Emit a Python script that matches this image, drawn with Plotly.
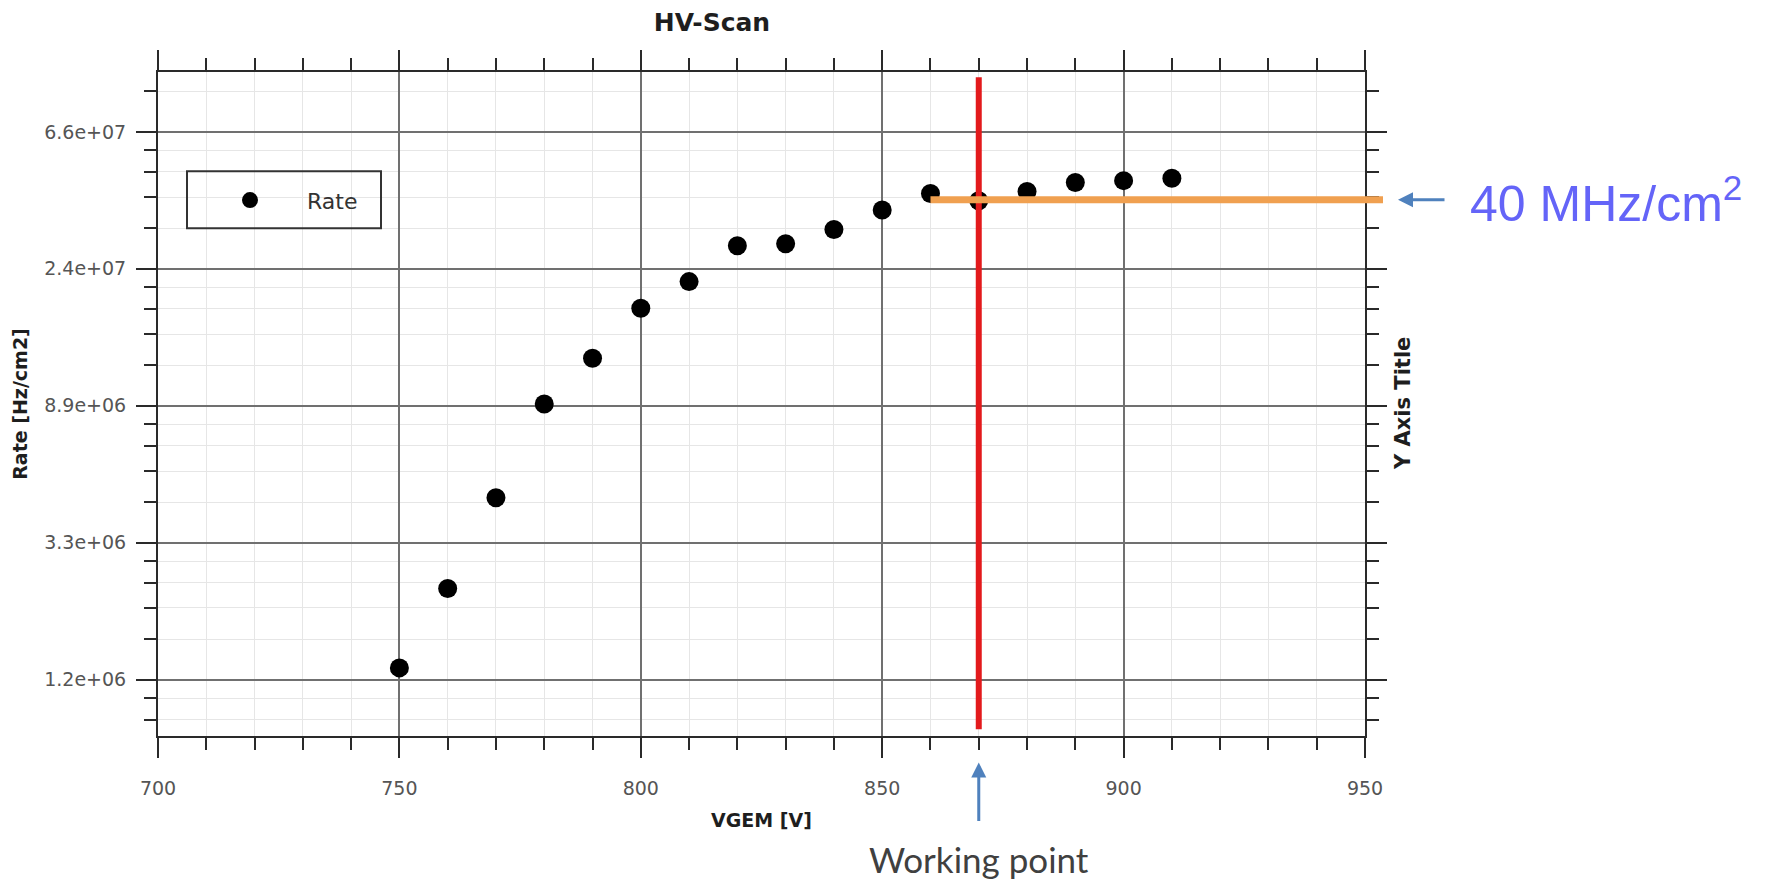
import math
import plotly.graph_objects as go

# HV scan: detector rate vs. GEM voltage
hv_volts = [750, 760, 770, 780, 790, 800, 810, 820, 830, 840, 850, 860, 870, 880, 890, 900, 910]
rate_hz_cm2 = [1.31e6, 2.34e6, 4.54e6, 9.0e6, 1.257e7, 1.81e7, 2.20e7, 2.86e7, 2.90e7,
               3.22e7, 3.71e7, 4.19e7, 3.97e7, 4.25e7, 4.54e7, 4.60e7, 4.68e7]

x_tick_vals = [700, 750, 800, 850, 900, 950]
y_tick_exponents = [14, 15, 16, 17, 18]          # ticks at e^n
y_tick_labels = ["1.2e+06", "3.3e+06", "8.9e+06", "2.4e+07", "6.6e+07"]

working_point_v = 870
target_rate = 40e6          # 40 MHz/cm2
target_line_start_v = 860

# natural-log decades, with linear subdivisions for the minor ticks
y_tick_vals = [math.exp(n) for n in y_tick_exponents]
y_minor_vals = []
for n in range(13, 19):
    lo, hi = math.exp(n), math.exp(n + 1)
    y_minor_vals += [lo + k * (hi - lo) / 5 for k in range(1, 5)]

W, H = 1774, 881
L, R, T, B = 158, 1365, 71.5, 736.5
pw, ph = R - L, B - T

def px_x(p):   # pixel -> plot-area fraction
    return (p - L) / pw

def px_y(p):
    return (B - p) / ph

tick_font = dict(family="DejaVu Sans", size=19, color="#555555")
title_font = dict(family="DejaVu Sans", size=19, color="#1e1e1e", weight="bold")
axis_col = "#2a2a2a"
arrow_col = "#4f81bd"

fig = go.Figure()
fig.add_trace(go.Scatter(
    x=hv_volts, y=rate_hz_cm2, mode="markers", name="Rate",
    marker=dict(symbol="circle", size=19, color="black"),
    cliponaxis=False,
))

common = dict(
    showline=True, linecolor=axis_col, linewidth=2,
    mirror="allticks", ticks="outside", ticklen=20, tickwidth=2, tickcolor=axis_col,
    showgrid=True, gridcolor="#707070", gridwidth=1.5,
    tickfont=tick_font, zeroline=False,
)

fig.update_xaxes(
    range=[700, 950], tickmode="array", tickvals=x_tick_vals,
    minor=dict(dtick=10, tick0=700, ticks="outside", ticklen=12, tickwidth=2,
               tickcolor=axis_col, showgrid=True, gridcolor="#e6e6e6", gridwidth=1),
    title=dict(text="VGEM [V]", font=title_font, standoff=16),
    ticklabelstandoff=14,
    **common,
)
fig.update_yaxes(
    type="log", range=[5.9012, 8.0073],
    tickmode="array", tickvals=y_tick_vals, ticktext=y_tick_labels,
    minor=dict(tickmode="array", tickvals=y_minor_vals, ticks="outside", ticklen=12,
               tickwidth=2, tickcolor=axis_col, showgrid=True, gridcolor="#e6e6e6", gridwidth=1),
    title=dict(text="Rate [Hz/cm2]", font=title_font, standoff=12),
    ticklabelstandoff=6,
    **common,
)

# working point marker line and 40 MHz/cm2 level
fig.add_shape(type="line", xref="x", yref="paper",
              x0=working_point_v, x1=working_point_v, y0=0.01, y1=0.992,
              line=dict(color="#e31a1c", width=6), layer="above")
fig.add_shape(type="line", xref="paper", yref="y",
              x0=(target_line_start_v - 700) / 250, x1=px_x(1383),
              y0=target_rate, y1=target_rate,
              line=dict(color="#f0a050", width=7), layer="above")

# legend frame
fig.add_shape(type="rect", xref="paper", yref="paper",
              x0=px_x(187), x1=px_x(381), y0=px_y(228), y1=px_y(171),
              line=dict(color="#333333", width=2), fillcolor="rgba(0,0,0,0)", layer="above")

# labels with their pointer arrows
ty = math.log10(target_rate)
fig.add_annotation(xref="paper", yref="y", x=px_x(1398), y=ty, ax=208, ay=0,
                   showarrow=True, arrowhead=2, arrowsize=1, arrowwidth=3,
                   arrowcolor=arrow_col, startstandoff=24,
                   text="40 MHz/cm<sup>2</sup>",
                   font=dict(family="Liberation Sans", size=50, color="#6464f8"))
fig.add_annotation(xref="x", yref="paper", x=working_point_v, y=px_y(763), ax=0, ay=97,
                   showarrow=True, arrowhead=2, arrowsize=1, arrowwidth=3,
                   arrowcolor=arrow_col, startstandoff=16,
                   text="Working point",
                   font=dict(family="Lato", size=35, color="#404040"))
fig.add_annotation(xref="paper", yref="paper", x=px_x(1403), y=0.5, textangle=-90,
                   xanchor="center", yanchor="middle", text="Y Axis Title", showarrow=False,
                   font=dict(family="DejaVu Sans", size=21, color="#1e1e1e", weight="bold"))

fig.update_layout(
    width=W, height=H,
    margin=dict(l=L, r=W - R, t=T, b=H - B),
    paper_bgcolor="white", plot_bgcolor="white",
    title=dict(text="HV-Scan", x=712 / W, xanchor="center", y=1 - 22 / H, yanchor="middle",
               font=dict(family="DejaVu Sans", size=25, color="#1e1e1e", weight="bold")),
    showlegend=True,
    legend=dict(x=px_x(193), y=px_y(200), xanchor="left", yanchor="middle",
                bgcolor="rgba(0,0,0,0)", borderwidth=0, itemwidth=104,
                font=dict(family="DejaVu Sans", size=22, color="#333333")),
)

fig.write_html("out.html")
